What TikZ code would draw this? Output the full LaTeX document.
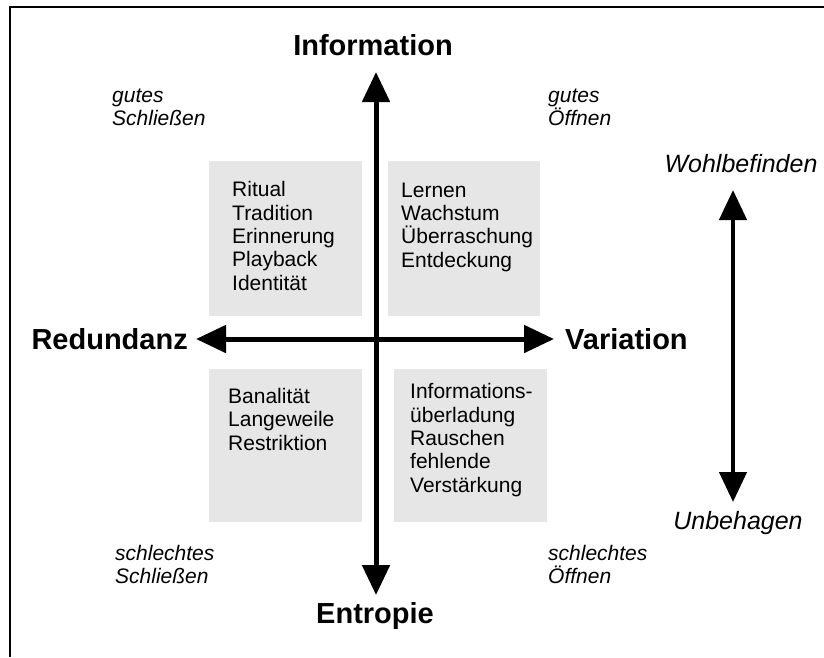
\documentclass[tikz,border=0pt]{standalone}
\usepackage{fontspec}
\setmainfont{Liberation Sans}
\usepackage{tikz}
\usetikzlibrary{arrows.meta,positioning}
\definecolor{boxGray}{HTML}{E6E6E6}
\definecolor{ink}{HTML}{000000}

\begin{document}
\begin{tikzpicture}[x=1pt,y=-1pt,
  axis/.style={draw=ink,line width=5pt,{Triangle[length=30pt,width=27pt]}-{Triangle[length=30pt,width=27pt]}},
  field/.style={fill=boxGray,inner sep=0pt,anchor=north west},
  words/.style={anchor=base west,align=left,inner sep=0pt,font=\fontsize{21}{23.3}\selectfont},
  pole/.style={inner sep=0pt,font=\fontsize{29}{32}\selectfont\bfseries},
  note/.style={anchor=base west,align=left,inner sep=0pt,font=\fontsize{21}{23}\selectfont\itshape},
  mood/.style={anchor=base,inner sep=0pt,font=\fontsize{25}{28}\selectfont\itshape}]
\useasboundingbox (0,0) rectangle (824,657);
% frame
\draw[ink,line width=2pt] (10,657) -- (10,7) -- (824,7);
% four fields (text placed by its last baseline)
\node[field,minimum width=153pt,minimum height=155pt] (ritBox) at (209,161) {};
\node[field,minimum width=152pt,minimum height=155pt] (lernBox) at (388,161) {};
\node[field,minimum width=153pt,minimum height=153pt] (banBox) at (209,369) {};
\node[field,minimum width=153pt,minimum height=153pt] (rauschBox) at (394,369) {};
\node[words] (rit) at (232,290) {Ritual\\Tradition\\Erinnerung\\Playback\\Identität};
\node[words] (lern) at (401,267) {Lernen\\Wachstum\\Überraschung\\Entdeckung};
\node[words] (ban) at (228,450) {Banalität\\Langeweile\\Restriktion};
\node[words] (rausch) at (410,492) {Informations-\\überladung\\Rauschen\\fehlende\\Verstärkung};
% poles
\node[pole,anchor=base] (info) at (373,55) {Information};
\node[pole,anchor=base] (entr) at (375,623) {Entropie};
\node[pole,anchor=base east] (red) at (188,349) {Redundanz};
\node[pole,anchor=base west] (var) at (565,349) {Variation};
% corner notes
\node[note] (gutS) at (112,125) {gutes\\Schließen};
\node[note] (gutO) at (548,125) {gutes\\Öffnen};
\node[note] (schS) at (115,583) {schlechtes\\Schließen};
\node[note] (schO) at (548,583) {schlechtes\\Öffnen};
% mood scale
\node[mood] (wohl) at (741,172) {Wohlbefinden};
\node[mood] (unbe) at (738,529) {Unbehagen};
% arrow ends
\coordinate (infoTip) at (376,72);
\coordinate (entrTip) at (376,595);
\coordinate (redTip) at (196,339);
\coordinate (varTip) at (554,339);
\coordinate (wohlTip) at (733,190);
\coordinate (unbeTip) at (733,502);
% arrows
\draw[axis] (entrTip) -- (infoTip);
\draw[axis] (redTip) -- (varTip);
\draw[axis,line width=4.5pt] (unbeTip) -- (wohlTip);
\end{tikzpicture}
\end{document}
